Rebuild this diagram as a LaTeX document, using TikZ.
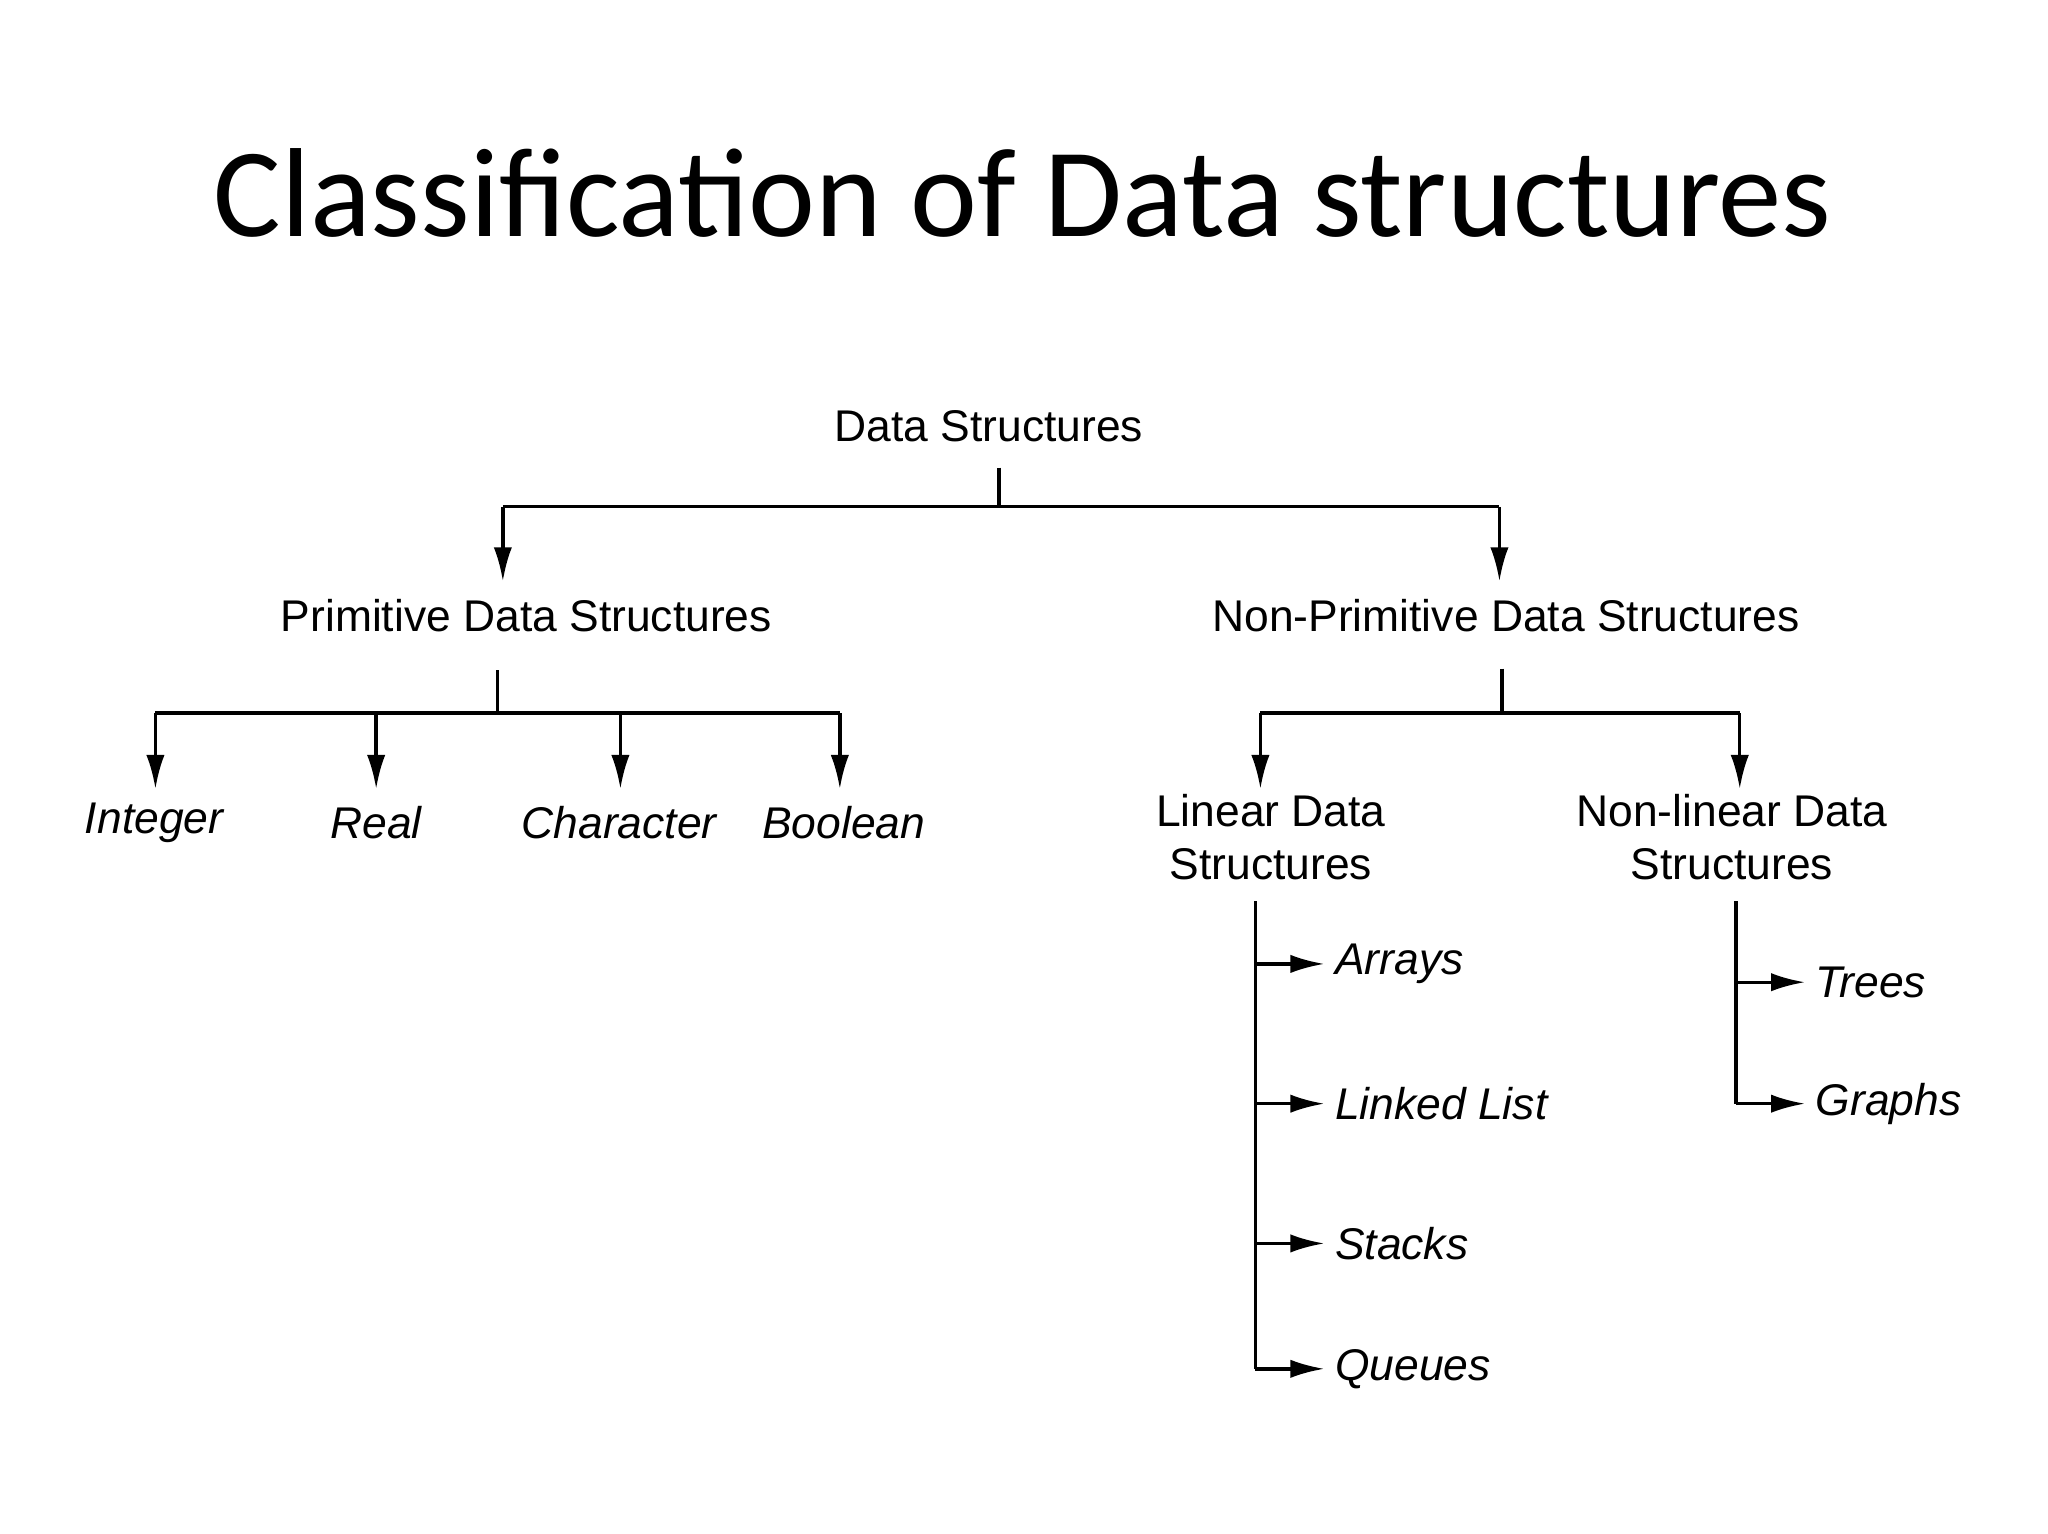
\documentclass[tikz,border=0pt]{standalone}
\usepackage{fontspec}
\setmainfont{Liberation Sans}
\newfontfamily\titlefont{Carlito}
\usetikzlibrary{arrows.meta}
\begin{document}
\begin{tikzpicture}[x=1pt,y=-1pt,
  lbl/.style={font=\fontsize{34}{40}\selectfont, inner sep=0pt, align=center},
  itl/.style={font=\fontsize{34}{40}\selectfont\itshape, inner sep=0pt},
  ln/.style={line width=2.6pt},
  arr/.style={line width=2.6pt,-{Latex[length=26pt,width=14pt]}}]
\useasboundingbox[fill=white] (0,0) rectangle (1568,1174);
\node[font=\titlefont\fontsize{97}{110}\selectfont, inner sep=0pt] (title) at (783,148) {Classification of Data structures};
\node[lbl] (ds) at (757,326) {Data Structures};
\node[lbl] (pds) at (403,471) {Primitive Data Structures};
\node[lbl] (npds) at (1153,471) {Non-Primitive Data Structures};
\node[itl] (int) at (118,630) {Integer};
\node[itl] (real) at (288,630) {Real};
\node[itl] (char) at (474,630) {Character};
\node[itl] (bool) at (646,630) {Boolean};
\node[lbl, font=\fontsize{34}{41}\selectfont] (lin) at (973,641) {Linear Data\\Structures};
\node[lbl, font=\fontsize{34}{41}\selectfont] (nlin) at (1326,641) {Non-linear Data\\Structures};
\node[itl, anchor=west] (arrays) at (1022,738) {Arrays};
\node[itl, anchor=west] (ll) at (1022,845) {Linked List};
\node[itl, anchor=west] (stk) at (1022,952) {Stacks};
\node[itl, anchor=west] (que) at (1022,1048) {Queues};
\node[itl, anchor=west] (trees) at (1390,752) {Trees};
\node[itl, anchor=west] (graphs) at (1390,845) {Graphs};
% top level
\draw[ln] (765,358) -- (765,388);
\draw[ln] (385,388) -- (1148,388);
\draw[arr] (385,388) -- (385,445);
\draw[arr] (1148,388) -- (1148,445);
% primitive
\draw[ln] (381,513) -- (381,546);
\draw[ln] (119,546) -- (643,546);
\foreach \x in {119,288,475,643}
  \draw[arr] (\x,546) -- (\x,604);
% non primitive
\draw[ln] (1150,512) -- (1150,546);
\draw[ln] (965,546) -- (1332,546);
\draw[arr] (965,546) -- (965,604);
\draw[arr] (1332,546) -- (1332,604);
% linear
\draw[ln] (961,690) -- (961,1048);
\foreach \y/\n in {738/arrays,845/ll,952/stk,1048/que}
  \draw[arr] (961,\y) -- (1014,\y);
% nonlinear
\draw[ln] (1329,690) -- (1329,845);
\draw[arr] (1329,752) -- (1382,752);
\draw[arr] (1329,845) -- (1382,845);
\end{tikzpicture}
\end{document}
